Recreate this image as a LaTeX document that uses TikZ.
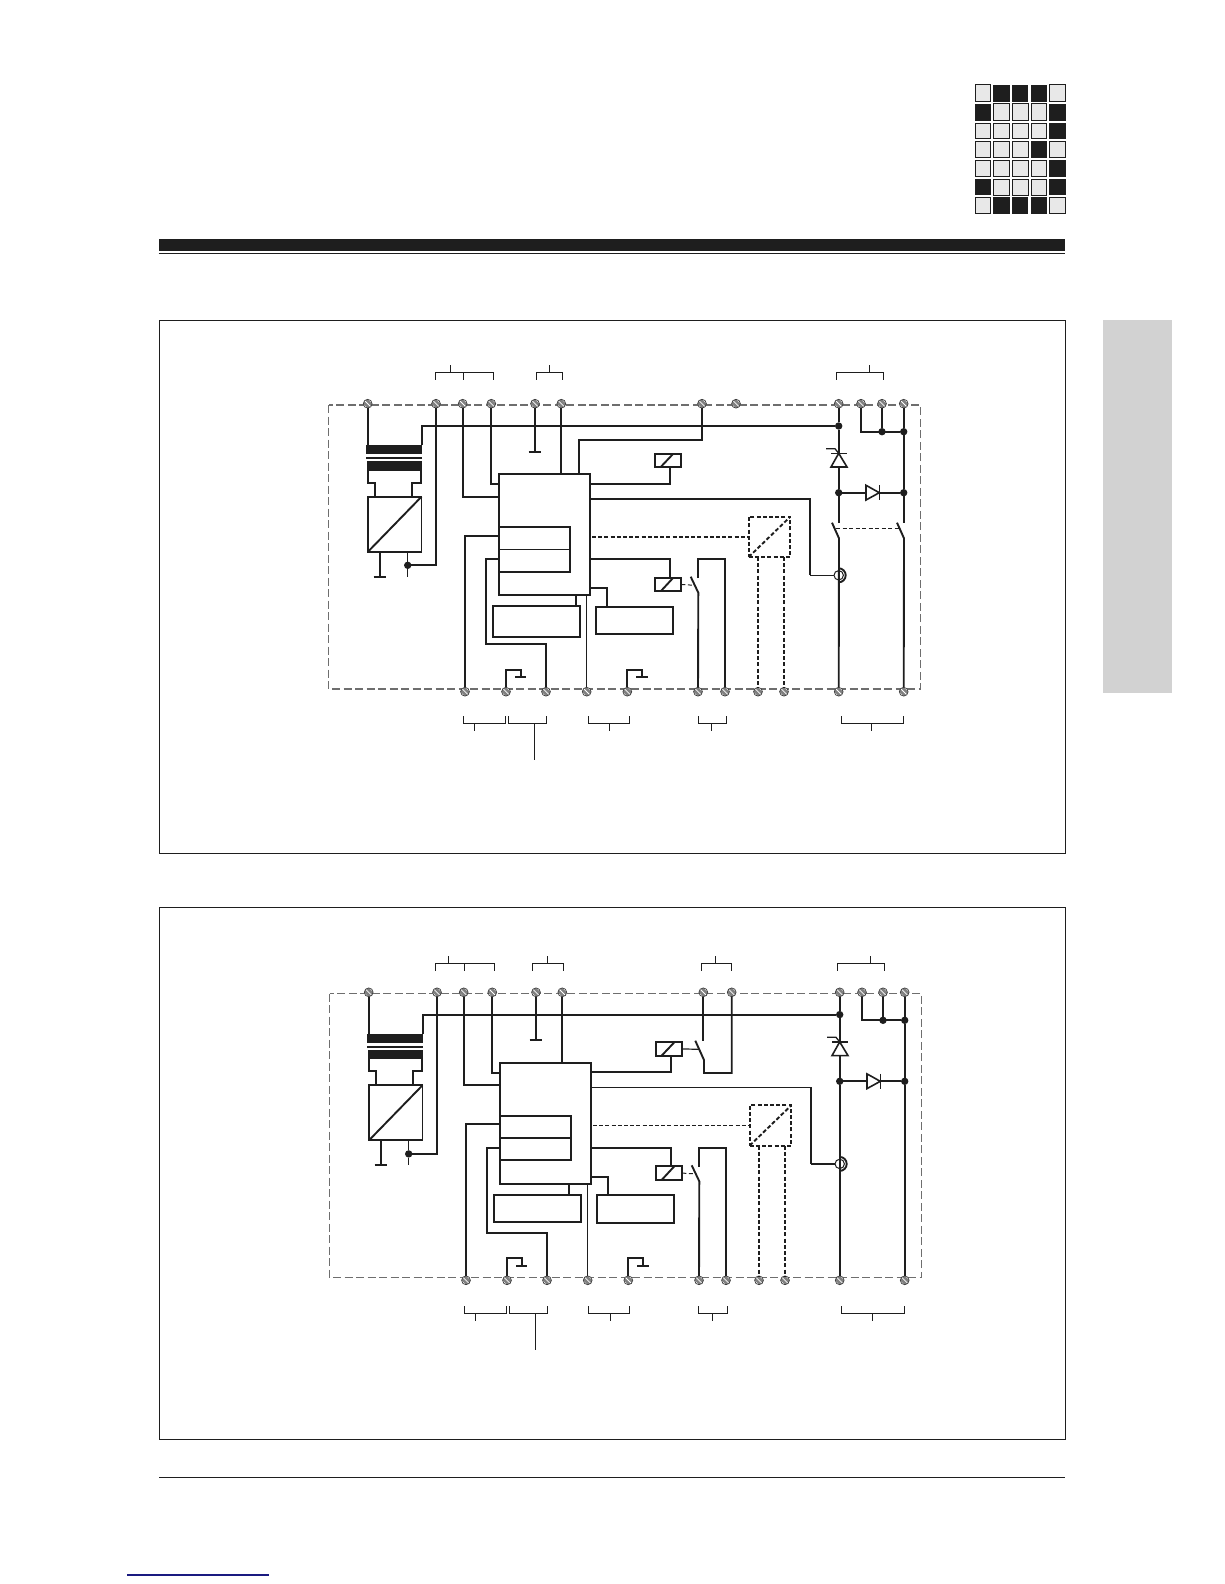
\documentclass[tikz,border=0pt]{standalone}
\usetikzlibrary{calc}
\definecolor{ink}{HTML}{1E1E1E}
\definecolor{framegray}{HTML}{6E6E6E}
\definecolor{termfill}{HTML}{808080}
\definecolor{lightcell}{HTML}{E8E8E8}
\definecolor{sidegray}{HTML}{D2D2D2}
\definecolor{linkblue}{HTML}{1A1A80}
\tikzset{
  wire/.style={draw=ink,line width=1.9pt},
  thinw/.style={draw=ink,line width=1.2pt},
  dwire/.style={draw=ink,line width=1.9pt,dash pattern=on 4pt off 2.2pt},
  linkd/.style={draw=ink,line width=1pt,dash pattern=on 4pt off 2.5pt},
  frameline/.style={draw=framegray,line width=1.1pt,dash pattern=on 8pt off 3.5pt},
  brk/.style={draw=ink,line width=1pt},
  panelbox/.style={draw=ink,line width=1.2pt},
  boxn/.style={rectangle,draw=ink,line width=1.9pt,inner sep=0pt,outer sep=0pt},
  dboxn/.style={rectangle,draw=ink,line width=1.9pt,dash pattern=on 4pt off 2.2pt,inner sep=0pt,outer sep=0pt},
  barn/.style={rectangle,fill=ink,inner sep=0pt,outer sep=0pt},
  wdot/.style={circle,fill=ink,inner sep=0pt,outer sep=0pt,minimum size=7.4pt},
  sensn/.style={circle,draw=ink,fill=white,line width=1pt,inner sep=0pt,outer sep=0pt,minimum size=9.4pt},
  term/.style={circle,draw=ink!85,fill=termfill,line width=.7pt,inner sep=0pt,outer sep=0pt,minimum size=8.8pt,
    path picture={\foreach \o in {-2.6,0,2.6}{\draw[white,line width=.75pt] ({\o-6pt},{\o+6pt}) -- ({\o+6pt},{\o-6pt});}}},
}
% rectangle node given by its corners: [style]{name}{x1}{y1}{x2}{y2}
\newcommand\rectn[6][boxn]{%
  \pgfmathsetmacro\rnw{#5-#3}\pgfmathsetmacro\rnh{#6-#4}%
  \pgfmathsetmacro\rnx{(#5+#3)/2}\pgfmathsetmacro\rny{(#6+#4)/2}%
  \node[#1,minimum width=\rnw pt,minimum height=\rnh pt] (#2) at (\rnx,\rny) {};}
\newcommand\gndbar[2]{\draw[wire] (#1) ++(-#2,0) -- ++(#2,0) -- ++(#2,0);}
\newcommand\brTop[4]{\draw[brk] (#1,#4) ++(0,7.4) -- ++(0,-7.4) -- (#2,#4) -- ++(0,7.4); \draw[brk] (#3,#4) -- ++(0,-7.3);}
\newcommand\brBot[5]{\draw[brk] (#1,#4) ++(0,-7) -- ++(0,7) -- (#2,#4) -- ++(0,-7); \draw[brk] (#3,#4) -- (#3,#5);}
% everything the two schematics share; #1 x of the wire to the lower box, #2 bottom of the lower box
\newcommand\schematic[2]{%
  \draw[frameline] (328.7,405) rectangle (920.7,689);
  \foreach \n/\x in {t1/367.7,t2/436,t3/462.7,t4/491.3,t5/535,t6/561.3,t9/838.7,t10/861,t11/882,t12/903.7}
    {\node[term] (\n) at (\x,403.7) {};}
  \foreach \n/\x in {b1/465,b2/506,b3/546,b4/586.7,b5/627.3,b6/698,b7/725,b8/758,b9/784,b10/838.7,b11/903.7}
    {\node[term] (\n) at (\x,691.7) {};}
  % transformer and converter
  \rectn[barn]{xfA}{366}{445}{421.7}{454}
  \rectn[barn]{xfB}{366}{457}{421.7}{459}
  \rectn[barn]{xfC}{367.3}{461.3}{421.7}{470.7}
  \rectn{conv}{368}{496.7}{421.5}{551.7}
  \draw[wire] (conv.south west) -- (conv.north east);
  \coordinate (xa) at (375.3,482.7);
  \coordinate (xb) at (411.7,482.7);
  \draw[wire] ([xshift=1pt]xfC.south west) |- (xa) -- (xa |- conv.north);
  \draw[wire] ([xshift=-1pt]xfC.south east) |- (xb) -- (xb |- conv.north);
  \coordinate (g0) at (380,576.7);
  \draw[wire] (g0 |- conv.south) -- (g0);
  \gndbar{g0}{6.3}
  \node[wdot] (dv) at (407.7,565.3) {};
  \draw[thinw] (dv |- conv.south) -- (dv) -- ++(0,11.4);
  \draw[wire] (t1) -- (t1 |- xfA.north);
  \draw[wire] (t2) |- (dv);
  % logic block
  \rectn{block}{499}{474}{590}{595}
  \rectn{inner}{499}{527}{570}{571.7}
  \draw[thinw] (inner.west) -- (inner.east);
  \rectn{lowA}{492.7}{606}{580}{#2}
  \rectn{lowB}{595.7}{606.7}{673.3}{634.3}
  \coordinate (pLa) at (499,496.7);
  \coordinate (pLb) at (499,484);
  \coordinate (pLc) at (499,535.7);
  \coordinate (pLd) at (499,559);
  \coordinate (pRa) at (590,483.7);
  \coordinate (pRc) at (590,559);
  \coordinate (pRd) at (590,588);
  \coordinate (kA) at (485.7,644.3);
  \coordinate (kB) at (#1,600);
  \draw[wire] (t3) |- (pLa);
  \draw[wire] (t4) |- (pLb);
  \coordinate (g5) at (535,451.7);
  \draw[wire] (t5) -- (g5);
  \gndbar{g5}{6.3}
  \draw[wire] (t6) -- (t6 |- block.north);
  \draw[wire] (b1) |- (pLc);
  \draw[wire] (pLd) -| (kA) -| (b3);
  \draw[wire] (kB |- block.south) -- (kB |- lowA.north);
  \draw[thinw] (b4 |- block.south) -- (b4);
  \draw[wire] (pRd) -| (607.3,606.7);
  % ground stubs
  \coordinate (g2a) at (520.7,669.7);
  \coordinate (g2) at (520.7,677);
  \draw[wire] (b2) |- (g2a) -- (g2);
  \gndbar{g2}{5.7}
  \coordinate (g3a) at (642,669.7);
  \coordinate (g3) at (642,677);
  \draw[wire] (b5) |- (g3a) -- (g3);
  \gndbar{g3}{5.7}
  % relays
  \rectn{relayA}{654.7}{453.7}{681.3}{467}
  \draw[wire] ([xshift=6pt]relayA.south west) -- ([xshift=18.6pt]relayA.north west);
  \draw[wire] (pRa) -| ([xshift=2pt]relayA.south);
  \rectn{relayB}{654.7}{577.7}{681.3}{591.3}
  \draw[wire] ([xshift=6pt]relayB.south west) -- ([xshift=18.6pt]relayB.north west);
  \draw[wire] (pRc) -| ([xshift=2pt]relayB.north);
  \coordinate (swa) at (690.7,576.7);
  \coordinate (swb) at (698.3,592.7);
  \coordinate (swm) at (694.6,585.3);
  \coordinate (swc) at (698.3,578);
  \coordinate (swd) at (698.3,559);
  \draw[linkd] (relayB.east) -- (swm);
  \draw[wire] (swa) -- (swb) -- (b6);
  \draw[wire] (swc) -- (swd) -| (b7);
  % isolated converter, dashed
  \rectn[dboxn]{dconv}{748.7}{516.7}{790.3}{557}
  \draw[dwire] (dconv.south west) -- (dconv.north east);
  \draw[dwire] ([xshift=2pt]dconv.west -| block.east) -- (dconv.west);
  \draw[dwire] (b8 |- dconv.south) -- (b8);
  \draw[dwire] (b9 |- dconv.south) -- (b9);
  % right hand power section
  \node[wdot] (dTop) at (838.7,426) {};
  \node[wdot] (dZ) at (838.7,492.7) {};
  \node[wdot] (dA) at (882,431.7) {};
  \node[wdot] (dB) at (903.7,431.7) {};
  \node[wdot] (dR) at (903.7,492.7) {};
  \draw[wire] (t9) -- (dTop) -- (dZ);
  \draw[wire] (xfA.north east) |- (dTop);
  \draw[wire] (t10) |- (dB);
  \draw[wire] (t11) -- (dA);
  \draw[wire] (t12) -- (dB) -- (dR);
  \draw[wire,line width=1.6pt,fill=white] (831,467) -- (847,467) -- (838.7,453.3) -- cycle;
  \draw[wire,line width=1.6pt] (831,453.3) -- (847,453.3);
  \draw[wire,line width=1.3pt] (826,448.7) -- (835,448.7) -- (838.7,453.3);
  \draw[wire] (dZ) -- (dR);
  \draw[wire,line width=1.6pt,fill=white] (866,485.3) -- (866,500) -- (879.3,492.7) -- cycle;
  \draw[wire,line width=1.6pt] (879.3,485.3) -- (879.3,500);
  \node[sensn] (sens) at (838.7,575.3) {};
  \draw[wire] (sens) ++(0,-7) arc[start angle=90,end angle=-90,radius=7pt];
  \coordinate (pRb) at (590,499);
  \coordinate (kS) at (810,575.3);
}
\begin{document}
\begin{tikzpicture}[x=1pt,y=-1pt]
\useasboundingbox (0,0) rectangle (1224,1584);
% corner grid
\foreach \ya/\yb/\pat in {85/101.7/{0,1,1,1,0},104/120.7/{1,0,0,0,1},123.3/138.7/{0,0,0,0,1},141.3/157.7/{0,0,0,1,0},160.3/176.7/{0,0,0,0,1},179.3/195/{1,0,0,0,1},197.3/213.7/{0,1,1,1,0}}{
  \foreach \c [count=\k] in \pat {
    \pgfmathsetmacro\xa{{975.3,993.3,1012.3,1031.3,1049.3}[\k-1]}
    \pgfmathsetmacro\xb{{990.7,1009.7,1028,1046.7,1065.7}[\k-1]}
    \ifnum\c=1 \fill[ink] (\xa,\ya) rectangle (\xb,\yb);
    \else \draw[draw=ink,fill=lightcell,line width=1pt] (\xa,\ya) rectangle (\xb,\yb); \fi
  }
}
% header, side tab, panels, footer
\fill[ink] (158.6,239) rectangle (1065,251);
\draw[draw=ink,line width=1pt] (158.6,253) -- (1065,253);
\fill[sidegray] (1103,320) rectangle (1171.7,693);
\draw[panelbox] (159.3,320.3) rectangle (1065.3,853.3);
\draw[panelbox] (159.3,907.3) rectangle (1065.3,1439.3);
\draw[draw=ink,line width=1.1pt] (159,1477.3) -- (1065,1477.3);
\draw[draw=linkblue,line width=1.1pt] (127,1575) -- (269,1575);

% ---------- upper schematic
\begin{scope}[name prefix=A-]
  \schematic{576}{637}
  \node[term] (t7) at (702,403.7) {};
  \node[term] (t8) at (736,403.7) {};
  \coordinate (kU) at (579,439.7);
  \draw[wire] (t7) |- (kU) -- (kU |- block.north);
  \draw[wire] (pRb) -| (kS);
  \draw[thinw] (kS) -- (sens);
  \coordinate (lA) at (832,522.7);
  \coordinate (lB) at (839,538.3);
  \coordinate (lC) at (897,522.7);
  \coordinate (lD) at (904,538.3);
  \coordinate (lE) at (838.7,522.7);
  \coordinate (lF) at (903.7,523.3);
  \draw[wire] (dZ) -- (lE);
  \draw[wire] (dR) -- (lF);
  \draw[wire] (lA) -- (lB) -- (b10);
  \draw[wire] (lC) -- (lD) -- (b11);
  \draw[linkd] (836,528.3) -- (900,528.3);
\end{scope}
\brTop{435.3}{493.3}{450.3}{372.3}
\draw[brk] (463.3,372.3) -- ++(0,7.4);
\brTop{536.3}{562.3}{549.3}{372.3}
\brTop{836.3}{883.3}{869.3}{372.3}
\brBot{463.3}{505.3}{474.3}{723.3}{730.7}
\brBot{508.3}{546.3}{534.3}{723.3}{759.7}
\brBot{588.3}{629.3}{609.3}{723.3}{730.7}
\brBot{698.3}{726.3}{711.3}{723.3}{730.7}
\brBot{841.3}{903.3}{871.3}{723.3}{730.7}

% ---------- lower schematic
\begin{scope}[shift={(1,588.6)},name prefix=B-]
  \schematic{568}{633.4}
  \node[term] (t7) at (702.3,403.7) {};
  \node[term] (t8) at (730.7,403.7) {};
  \coordinate (lA) at (702.3,452.1);
  \coordinate (lB) at (694.3,452.1);
  \coordinate (lC) at (703,471.4);
  \coordinate (lD) at (703,484.4);
  \coordinate (lM) at (698.7,460.7);
  \draw[wire] (t7) -- (lA);
  \draw[wire] (lB) -- (lC) -- (lD) -| (t8);
  \draw[thinw] (relayA.east) -- (lM);
  \draw[thinw] (pRb) -| (kS);
  \draw[wire] (kS) -- (sens);
  \draw[wire] (dZ) -- (b10);
  \draw[wire] (dR) -- (b11);
\end{scope}
\brTop{435.3}{494.3}{448.3}{963.3}
\draw[brk] (464.3,963.3) -- ++(0,7.4);
\brTop{532.3}{563.3}{547.7}{963.3}
\brTop{701.3}{731.3}{715.3}{963.3}
\brTop{837.3}{884.3}{870.3}{963.3}
\brBot{464.3}{506.7}{475.3}{1313.3}{1320.7}
\brBot{509.3}{547.3}{535.3}{1313.3}{1349.7}
\brBot{588.3}{629.3}{610.3}{1313.3}{1320.7}
\brBot{698.3}{727.3}{712.3}{1313.3}{1320.7}
\brBot{841.3}{904}{872.6}{1313.3}{1320.7}
\end{tikzpicture}
\end{document}
